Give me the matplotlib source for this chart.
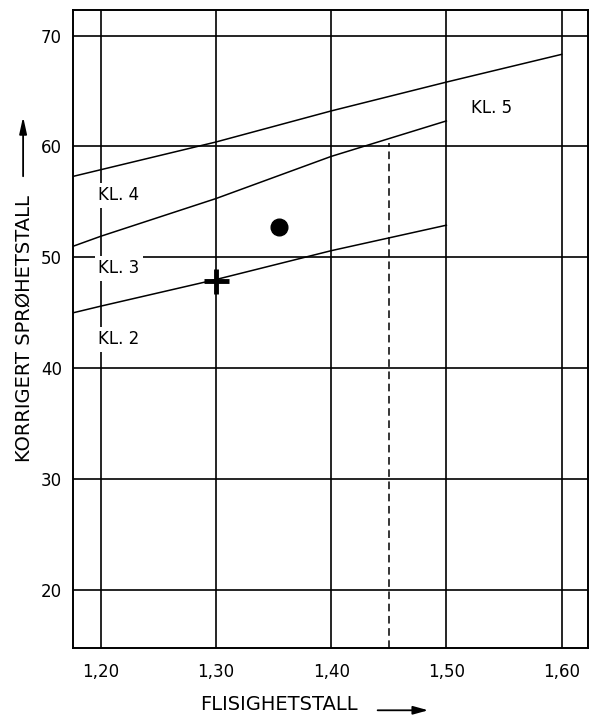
import matplotlib.pyplot as plt
from matplotlib.ticker import FuncFormatter

# boundary lines between the classes
kl4_x = [1.176, 1.30, 1.40, 1.50, 1.60]
kl4_y = [57.3, 60.4, 63.2, 65.8, 68.3]

kl3_x = [1.176, 1.20, 1.30, 1.40, 1.50]
kl3_y = [51.0, 51.9, 55.3, 59.1, 62.3]

kl2_x = [1.176, 1.20, 1.30, 1.40, 1.50]
kl2_y = [45.0, 45.6, 48.0, 50.6, 52.9]

# dashed limit
limit_x = 1.45
limit_y = [14.8, 60.3]

# measured samples
dot_x, dot_y = 1.355, 52.7
plus_x, plus_y = 1.30, 47.9

class_labels = ["KL. 4", "KL. 3", "KL. 2", "KL. 5"]
class_label_x = [1.198, 1.198, 1.198, 1.521]
class_label_y = [55.6, 49.0, 42.6, 63.5]

x_ticks = [1.20, 1.30, 1.40, 1.50, 1.60]
y_ticks = [20, 30, 40, 50, 60, 70]

plt.rcParams['font.family'] = ['DejaVu Sans']

fig = plt.figure(figsize=(5.94, 7.15), dpi=100)
ax = fig.add_axes([0.123, 0.094, 0.867, 0.892])

ax.set_xlim(1.176, 1.623)
ax.set_ylim(14.8, 72.3)

ax.set_xticks(x_ticks)
ax.set_yticks(y_ticks)
ax.xaxis.set_major_formatter(FuncFormatter(lambda v, p: f"{v:.2f}".replace(".", ",")))
ax.tick_params(length=0, labelsize=12)
ax.tick_params(axis="x", pad=11)
ax.tick_params(axis="y", pad=8)
ax.grid(True, color="black", linewidth=1.2)
for s in ax.spines.values():
    s.set_linewidth(1.4)

ax.plot(kl4_x, kl4_y, color="black", lw=1.1)
ax.plot(kl3_x, kl3_y, color="black", lw=1.1)
ax.plot(kl2_x, kl2_y, color="black", lw=1.1)
ax.plot([limit_x, limit_x], limit_y, color="black", lw=1.1, linestyle=(0, (5, 3)))

ax.plot(dot_x, dot_y, "o", color="black", markersize=12)
ax.plot(plus_x, plus_y, "+", color="black", markersize=18, markeredgewidth=3.5)

for lab, tx, ty in zip(class_labels, class_label_x, class_label_y):
    ax.text(tx, ty, lab, fontsize=12, va="center", ha="left",
            bbox=dict(facecolor="white", edgecolor="none", pad=2.5))

# axis titles with their arrows
ax.set_xlabel("FLISIGHETSTALL", fontsize=14, va="center")
ax.xaxis.set_label_coords(0.399, -0.089)
ax.set_ylabel("KORRIGERT SPRØHETSTALL", fontsize=14, va="center")
ax.yaxis.set_label_coords(-0.095, 0.5)

ax.annotate("", xy=(0.695, -0.098), xytext=(0.586, -0.098), xycoords="axes fraction",
            arrowprops=dict(arrowstyle="-|>,head_length=0.9,head_width=0.25",
                            color="black", lw=1.3), annotation_clip=False)
ax.annotate("", xy=(-0.097, 0.837), xytext=(-0.097, 0.735), xycoords="axes fraction",
            arrowprops=dict(arrowstyle="-|>,head_length=1.0,head_width=0.22",
                            color="black", lw=1.3), annotation_clip=False)

fig.savefig("out.png", dpi=100)
